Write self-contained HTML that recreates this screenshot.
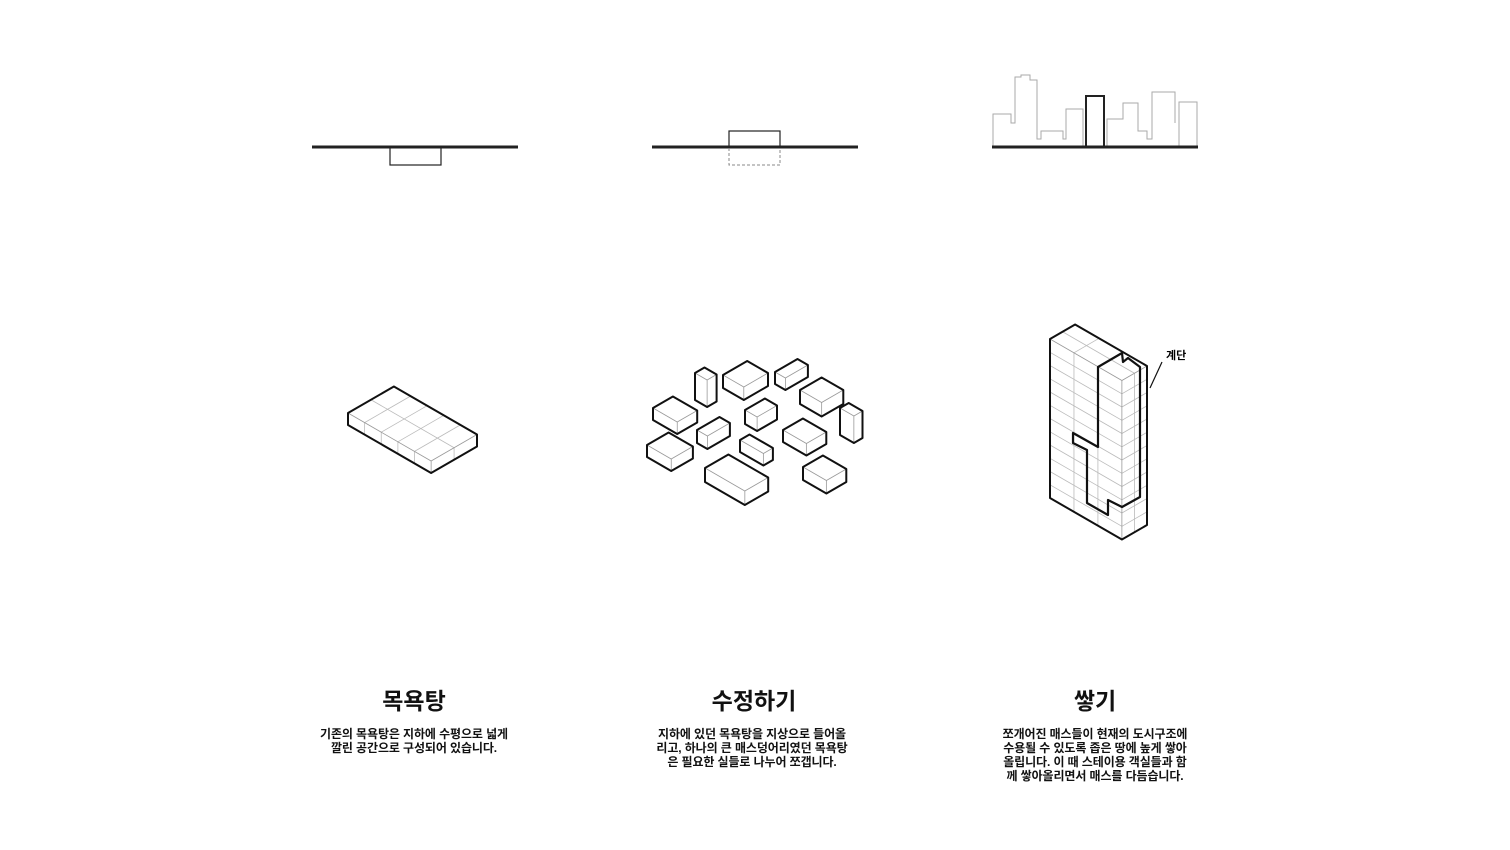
<!DOCTYPE html>
<html><head><meta charset="utf-8"><style>
body{margin:0;background:#fff;width:1510px;height:850px;overflow:hidden;position:relative;font-family:"Liberation Sans","Noto Sans CJK KR",sans-serif}
svg{position:absolute;left:0;top:0}
.t{position:absolute;text-align:center;font-weight:bold;color:#111;transform:translateX(-50%)}
.h{font-size:23px;top:682px}
.p{font-size:12px;line-height:14px;top:727px;white-space:nowrap;letter-spacing:-0.1px}
</style></head><body>
<svg id="s" width="1510" height="850" viewBox="0 0 1510 850">
<g stroke="#222" fill="none">
<line x1="312" y1="147" x2="518" y2="147" stroke-width="3"/>
<rect x="390" y="147" width="51" height="18" stroke-width="1.2"/>
<line x1="652" y1="147" x2="858" y2="147" stroke-width="3"/>
<rect x="729" y="131" width="51" height="16" stroke-width="1.2"/>
<path d="M729 148V165H780V148" stroke="#888" stroke-dasharray="3 2" stroke-width="1"/>
<path d="M993 147V114H1011V123H1015V77H1021V75H1030V80H1037V139H1041V131H1063V139H1066V109H1083V147 M1107 147V119H1123V103H1138V131H1147V139H1152V92H1175V123 M1179 147V102H1197V147" stroke="#aaa" stroke-width="1"/>
<line x1="992" y1="147" x2="1198" y2="147" stroke-width="3"/>
<rect x="1086" y="96" width="18" height="51" stroke-width="2"/>
</g>
<g id="boxes"></g>
<g stroke="#111" fill="none" stroke-width="2.2" stroke-linejoin="round">
<path d="M1098 367L1122 353L1123 362L1128 358L1140 367V497L1122 507L1108 500V515L1087 503V450L1073 443V433L1098 447Z"/>
</g>
<line x1="1162" y1="362" x2="1150" y2="388" stroke="#111" stroke-width="1.2"/>
<text x="1166" y="359" font-size="11" font-weight="bold" font-family="Liberation Sans,Noto Sans CJK KR,sans-serif">계단</text>
</svg>
<div class="t h" style="left:414px">목욕탕</div>
<div class="t p" style="left:414px">기존의 목욕탕은 지하에 수평으로 넓게<br>깔린 공간으로 구성되어 있습니다.</div>
<div class="t h" style="left:754px">수정하기</div>
<div class="t p" style="left:752px">지하에 있던 목욕탕을 지상으로 들어올<br>리고, 하나의 큰 매스덩어리였던 목욕탕<br>은 필요한 실들로 나누어 쪼갭니다.</div>
<div class="t h" style="left:1095px">쌓기</div>
<div class="t p" style="left:1095px">쪼개어진 매스들이 현재의 도시구조에<br>수용될 수 있도록 좁은 땅에 높게 쌓아<br>올립니다. 이 때 스테이용 객실들과 함<br>께 쌓아올리면서 매스를 다듬습니다.</div>
<script>
var c=0.866,s=0.5,g=document.getElementById('boxes'),out='';
function P(p){return p.map(function(q){return q[0].toFixed(1)+','+q[1].toFixed(1)}).join(' ')}
function box(x,y,a,b,h,grid){
 var L=[x,y],T=[x+a*c,y-a*s],R=[T[0]+b*c,T[1]+b*s],B=[x+b*c,y+b*s];
 var Lh=[L[0],L[1]+h],Rh=[R[0],R[1]+h],Bh=[B[0],B[1]+h];
 if(grid){var st='';
  for(var i=1;i<grid[0];i++){var f=i/grid[0];st+='<line x1="'+(L[0]+b*c*f)+'" y1="'+(L[1]+b*s*f)+'" x2="'+(T[0]+b*c*f)+'" y2="'+(T[1]+b*s*f)+'"/>';
   st+='<line x1="'+(L[0]+b*c*f)+'" y1="'+(L[1]+b*s*f)+'" x2="'+(L[0]+b*c*f)+'" y2="'+(L[1]+b*s*f+h)+'"/>';}
  for(var j=1;j<grid[1];j++){var e=j/grid[1];st+='<line x1="'+(L[0]+a*c*e)+'" y1="'+(L[1]-a*s*e)+'" x2="'+(B[0]+a*c*e)+'" y2="'+(B[1]-a*s*e)+'"/>';
   st+='<line x1="'+(B[0]+a*c*e)+'" y1="'+(B[1]-a*s*e)+'" x2="'+(B[0]+a*c*e)+'" y2="'+(B[1]-a*s*e+h)+'"/>';}
  for(var k=1;k<grid[2];k++){var hh=h*k/grid[2];st+='<polyline points="'+P([[L[0],L[1]+hh],[B[0],B[1]+hh],[R[0],R[1]+hh]])+'"/>';}
  out+='<g stroke="#bbb" stroke-width="0.8" fill="none">'+st+'</g>';}
 out+='<polyline points="'+P([L,B,R])+'" fill="none" stroke="#999" stroke-width="0.8"/>';
 out+='<line x1="'+B[0]+'" y1="'+B[1]+'" x2="'+Bh[0]+'" y2="'+Bh[1]+'" stroke="#999" stroke-width="0.8"/>';
 out+='<polygon points="'+P([L,T,R,Rh,Bh,Lh])+'" fill="none" stroke="#111" stroke-width="2" stroke-linejoin="round"/>';
}
box(348,413,53,96,12,[5,2,1]);
box(695,373,11,14,27);box(723,375,28,24,13);box(775,372,26,12,12);
box(653,408,23,28,12);box(647,445,25,28,12);box(697,430,26,12,13);
box(745,410,23,14,14);box(740,440,11,27,12);box(800,390,25,25,14);
box(840,408,10,16,27);box(783,430,23,27,12);box(803,467,23,27,13);
box(705,468,27,46,14);
box(1050,339,29,83,159,[3,2,12]);
g.innerHTML=out;
</script>
</body></html>
